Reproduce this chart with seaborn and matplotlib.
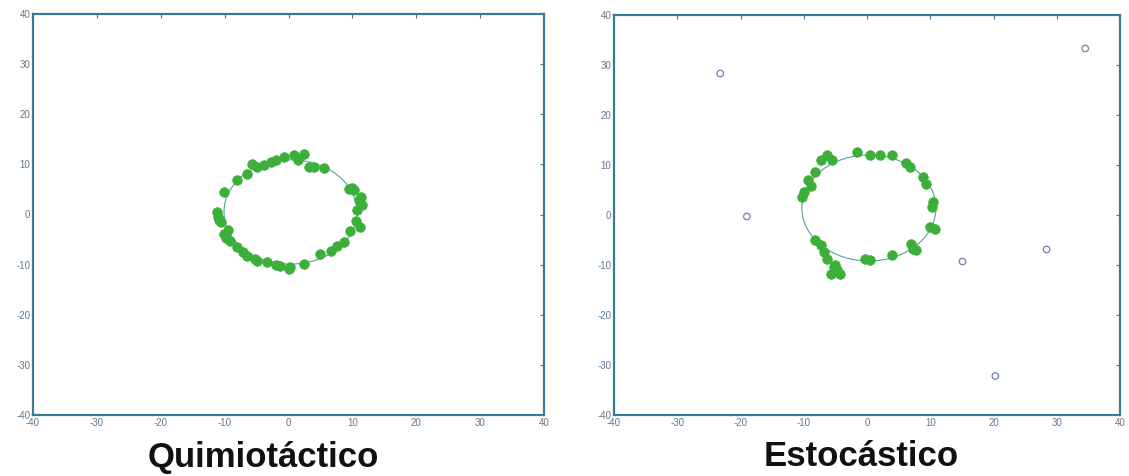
import numpy as np
import pandas as pd
import matplotlib
matplotlib.use("Agg")
import matplotlib.pyplot as plt
from matplotlib.patches import Ellipse
import seaborn as sns

sns.set_theme(style="white")
plt.rcParams['font.family'] = ['Liberation Sans', 'DejaVu Sans']
plt.rcParams['axes.unicode_minus'] = False

# Chemotactic run: agents gathered on the ring
quimio_x = [-0.7, 0.8, 2.4, 1.5, 4.0, 5.5, -2.8, -5.7, -4.9, -6.5, -8.0, -10.1, -11.2,
            -10.6, -10.1, -9.1, -8.0, -6.5, -4.9, -3.3, -1.3, 0.3, 2.4, 5.0, 6.6, 8.7,
            9.7, 10.5, 10.8, 11.0, 10.2, 9.4, -11.0, -9.5, -7.2, -2.0, 0.0, 11.5, 11.2,
            -3.8, 3.2, -5.3, -9.8, -10.9, 7.6, 10.0, 11.4, -1.9]
quimio_y = [11.4, 11.8, 12.1, 10.8, 9.4, 9.2, 10.4, 10.1, 9.4, 8.1, 6.8, 4.5, 0.5,
            -1.5, -3.9, -5.2, -6.5, -8.2, -9.2, -9.5, -10.2, -10.5, -9.8, -7.8, -7.2, -5.5,
            -3.2, -1.2, 0.8, 2.8, 4.8, 5.1, -0.5, -3.0, -7.5, 10.8, -10.8, 1.8, -2.5,
            9.8, 9.5, -8.8, -4.6, -1.0, -6.3, 5.3, 3.5, -10.0]

# Stochastic run: agents near the ring plus scattered stragglers
esto_x = [-6.25, -7.3, -5.5, -1.6, 0.5, 2.1, 3.9, 6.8, 8.9, 9.4, 10.2, 10.4, 9.9, 10.7,
          7.3, 7.0, 3.9, 0.5, -0.3, -4.7, -5.7, -4.2, -6.25, -7.3, -8.3, -9.9, -9.4,
          -8.3, -10.2, -5.0, 6.2, -5.2, -6.8, -8.8, 7.7]
esto_y = [12.0, 11.0, 11.0, 12.7, 12.0, 12.0, 12.0, 9.7, 7.7, 6.3, 1.7, 2.7, -2.3, -2.7,
          -6.7, -5.7, -8.0, -9.0, -8.7, -11.0, -11.7, -11.7, -8.7, -6.0, -5.0, 4.7, 7.0,
          8.7, 3.7, -10.0, 10.5, -10.4, -7.3, 5.8, -7.0]
libre_x = [-23.2, -19.0, 15.1, 28.4, 20.3, 34.5]
libre_y = [28.3, -0.3, -9.3, -6.9, -32.2, 33.3]

# Reference ring of each run: centre x, centre y, radius
anillo_quimio = (0.3, 0.5, 10.4)
anillo_esto = (0.3, 1.4, 10.6)

ticks = [-40, -30, -20, -10, 0, 10, 20, 30, 40]
titulos = ["Quimiotáctico", "Estocástico"]

green = "#3caf3a"
spine_c = "#3b7a96"
tick_c = "#62788c"

fig = plt.figure(figsize=(11.29, 4.76), dpi=100)
W, H = 1129, 476
ax1 = fig.add_axes([33 / W, 1 - 415 / H, 511 / W, 401 / H])
ax2 = fig.add_axes([614 / W, 1 - 415 / H, 506 / W, 400 / H])


def style(ax):
    ax.set_xlim(-40, 40)
    ax.set_ylim(-40, 40)
    ax.set_xticks(ticks)
    ax.set_yticks(ticks)
    ax.tick_params(direction="in", length=3, width=0.8, color=spine_c, labelsize=7,
                   labelcolor=tick_c, top=True, right=True, pad=2)
    for s in ax.spines.values():
        s.set_color(spine_c)
        s.set_linewidth(1.6)
    ax.set_xlabel("")
    ax.set_ylabel("")


def ring(ax, spec):
    cx, cy, r = spec
    ax.add_patch(Ellipse((cx, cy), 2 * r, 2 * r, fill=False, ec="#4aa898", lw=0.8, zorder=1))


df1 = pd.DataFrame({"x": quimio_x, "y": quimio_y})
ring(ax1, anillo_quimio)
sns.scatterplot(data=df1, x="x", y="y", ax=ax1, color=green, s=48, edgecolor=green,
                linewidth=0.5, zorder=3)
style(ax1)

df2 = pd.DataFrame({"x": esto_x, "y": esto_y})
df3 = pd.DataFrame({"x": libre_x, "y": libre_y})
ring(ax2, anillo_esto)
sns.scatterplot(data=df2, x="x", y="y", ax=ax2, color=green, s=48, edgecolor=green,
                linewidth=0.5, zorder=3)
sns.scatterplot(data=df3, x="x", y="y", ax=ax2, marker="o", s=22, facecolor="none",
                edgecolor="#7080a8", linewidth=0.9, zorder=3)
style(ax2)

fig.text(263 / W, 1 - 457 / H, titulos[0], ha="center", va="center", fontsize=25,
         fontweight="bold", color="#111111")
fig.text(861 / W, 1 - 457 / H, titulos[1], ha="center", va="center", fontsize=25,
         fontweight="bold", color="#111111")

fig.savefig("out.png", dpi=100)
